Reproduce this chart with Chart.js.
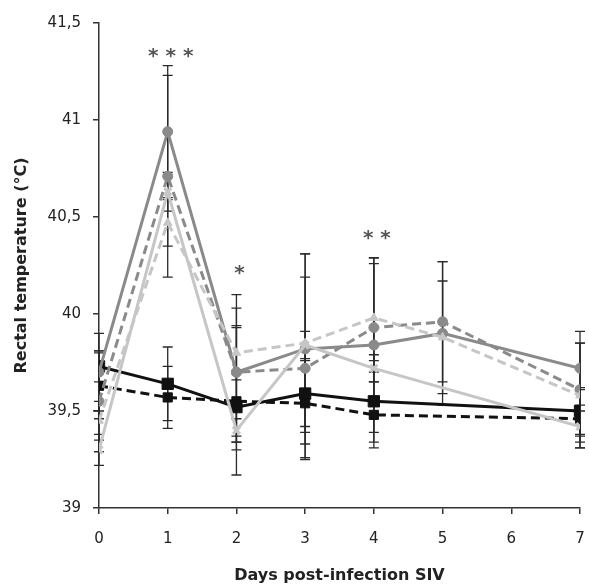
<!DOCTYPE html>
<html>
<head>
<meta charset="utf-8">
<script src="https://cdn.jsdelivr.net/npm/chart.js@4"></script>
<style>
  html, body { margin: 0; padding: 0; background: #fff; }
  #wrap { width: 589px; height: 585px; }
</style>
</head>
<body>
<div id="wrap"><canvas id="chart" width="589" height="585"></canvas></div>
<script>
// Days post-infection
const days = [0, 1, 2, 3, 4, 5, 7]

// Mean rectal temperature per group (null = no point that day)
const blackSolid  = [39.73, 39.64, 39.52, 39.59, 39.55, null, 39.50]
const blackDashed = [39.63, 39.57, 39.55, 39.54, 39.48, null, 39.46]
const graySolid   = [39.70, 40.94, 39.70, 39.82, 39.84, 39.90, 39.72]
const grayDashed  = [39.55, 40.71, 39.70, 39.72, 39.93, 39.96, 39.61]
const lightSolid  = [39.30, 40.63, 39.40, 39.84, 39.72, null, 39.42]
const lightDashed = [39.45, 40.47, 39.80, 39.85, 39.98, 39.88, 39.58]

// Error bar half-lengths (same order as days)
const blackSolidErr  = [0.08, 0.19, 0.18, 0.17, 0.21, null, 0.12]
const blackDashedErr = [0.17, 0.16, 0.38, 0.28, 0.17, null, 0.15]
const graySolidErr   = [0.20, 0.34, 0.40, 0.49, 0.45, 0.37, 0.19]
const grayDashedErr  = [0.26, 0.52, 0.33, 0.47, 0.36, 0.31, 0.24]
const lightSolidErr  = [0.08, 0.10, 0.06, 0.07, 0.07, null, 0.08]
const lightDashedErr = [0.10, 0.12, 0.14, 0.46, 0.28, 0.29, 0.27]

// Significance marks
const sigDays   = [1, 2, 4]
const sigLabels = ["* * *", "*", "* *"]
const sigLevels = [41.31, 40.19, 40.37]

const yTicks = [39, 39.5, 40, 40.5, 41, 41.5]

const colors = {
  black: "#111111",
  gray: "#8a8a8a",
  light: "#c6c6c6",
  axis: "#333333",
  err: "#2a2a2a",
}

function points(vals, errs) {
  const out = []
  days.forEach((d, i) => {
    if (vals[i] !== null) out.push({ x: d, y: vals[i], err: errs[i] })
  })
  return out
}

function series(vals, errs, color, dashed, style, radius) {
  return {
    data: points(vals, errs),
    borderColor: color,
    backgroundColor: color,
    borderWidth: 3,
    borderDash: dashed ? [9, 5] : [],
    pointStyle: style,
    pointRadius: radius,
    pointBorderWidth: style === "crossRot" ? 3 : 1,
    pointBorderColor: color,
    tension: 0,
  }
}

// Error bars drawn with the chart scales
const errorBars = {
  id: "errorBars",
  beforeDatasetsDraw(chart) {
    const { ctx, scales: { x, y } } = chart
    ctx.save()
    ctx.strokeStyle = colors.err
    ctx.lineWidth = 1.3
    chart.data.datasets.forEach((ds) => {
      ds.data.forEach((p) => {
        if (p.err == null) return
        const px = x.getPixelForValue(p.x)
        const top = y.getPixelForValue(p.y + p.err)
        const bot = y.getPixelForValue(p.y - p.err)
        ctx.beginPath()
        ctx.moveTo(px, top)
        ctx.lineTo(px, bot)
        ctx.moveTo(px - 5, top)
        ctx.lineTo(px + 5, top)
        ctx.moveTo(px - 5, bot)
        ctx.lineTo(px + 5, bot)
        ctx.stroke()
      })
    })
    ctx.restore()
  },
}

// Asterisks above the significant days
const sigMarks = {
  id: "sigMarks",
  afterDatasetsDraw(chart) {
    const { ctx, scales: { x, y } } = chart
    ctx.save()
    ctx.fillStyle = "#555555"
    ctx.font = "bold 20px 'DejaVu Sans'"
    ctx.textAlign = "center"
    ctx.textBaseline = "middle"
    sigDays.forEach((d, i) => {
      ctx.fillText(sigLabels[i], x.getPixelForValue(d) + 3, y.getPixelForValue(sigLevels[i]) - 3)
    })
    ctx.restore()
  },
}

new Chart(document.getElementById("chart"), {
  type: "line",
  data: {
    datasets: [
      series(lightDashed, lightDashedErr, colors.light, true, "triangle", 5),
      series(lightSolid, lightSolidErr, colors.light, false, "crossRot", 5),
      series(grayDashed, grayDashedErr, colors.gray, true, "circle", 5),
      series(graySolid, graySolidErr, colors.gray, false, "circle", 5),
      series(blackDashed, blackDashedErr, colors.black, true, "rect", 6.5),
      series(blackSolid, blackSolidErr, colors.black, false, "rect", 8),
    ],
  },
  options: {
    responsive: false,
    animation: false,
    layout: { padding: { top: 23, right: 7, bottom: 0, left: 0 } },
    plugins: {
      legend: { display: false },
      tooltip: { enabled: false },
    },
    scales: {
      x: {
        type: "linear",
        min: 0,
        max: 7,
        // keep the plot right edge where the reference has it
        afterFit: (scale) => {
          scale.height = 77
          scale.paddingLeft = 0
          scale.paddingRight = 0
        },
        ticks: {
          stepSize: 1,
          padding: 16,
          color: "#222",
          font: { family: "'DejaVu Sans'", size: 15 },
        },
        grid: { display: true, drawOnChartArea: false, drawTicks: true, tickLength: 6, color: colors.axis, lineWidth: 1.5 },
        border: { display: true, color: colors.axis, width: 1.5 },
        title: {
          display: true,
          text: "Days post-infection SIV",
          color: "#222",
          font: { family: "'DejaVu Sans'", size: 16, weight: "bold" },
          padding: { top: 0, bottom: 0 },
        },
      },
      y: {
        type: "linear",
        min: 39,
        max: 41.5,
        afterFit: (scale) => { scale.width = 99 },
        afterBuildTicks: (scale) => { scale.ticks = yTicks.map((v) => ({ value: v })) },
        ticks: {
          padding: 12,
          color: "#222",
          font: { family: "'DejaVu Sans'", size: 15 },
          callback: (v) => String(v).replace(".", ","),
        },
        grid: { display: true, drawOnChartArea: false, drawTicks: true, tickLength: 6, color: colors.axis, lineWidth: 1.5 },
        border: { display: true, color: colors.axis, width: 1.5 },
        title: {
          display: true,
          text: "Rectal temperature (°C)",
          color: "#222",
          font: { family: "'DejaVu Sans'", size: 16, weight: "bold" },
          padding: { top: 12, bottom: 0 },
        },
      },
    },
  },
  plugins: [errorBars, sigMarks],
})
</script>
</body>
</html>
